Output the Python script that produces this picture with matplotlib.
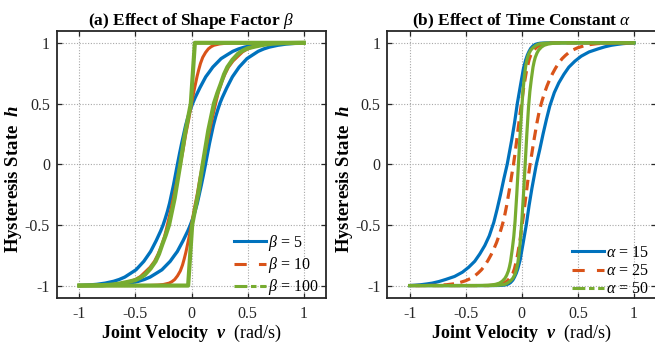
import matplotlib
matplotlib.use('Agg')
import matplotlib.pyplot as plt
from matplotlib.lines import Line2D

plt.rcParams.update({
    'font.family': ['Liberation Serif', 'DejaVu Serif'],
    'mathtext.fontset': 'custom',
    'mathtext.rm': 'Liberation Serif',
    'mathtext.it': 'Liberation Serif:italic',
    'mathtext.bf': 'Liberation Serif:bold',
    'mathtext.bfit': 'Liberation Serif:bold:italic',
    'axes.unicode_minus': False,
})

# ---------------- data ----------------
ticks = [-1, -0.5, 0, 0.5, 1]
tick_labels = ['-1', '-0.5', '0', '0.5', '1']

# Panel (a): effect of shape factor beta
beta_labels = [r'$\beta$ = 5', r'$\beta$ = 10', r'$\beta$ = 100']

b5_up_v = [-1.0, -0.925, -0.845, -0.77, -0.695, -0.645, -0.595, -0.545, -0.495, -0.46, -0.425, -0.395,
           -0.365, -0.34, -0.315, -0.295, -0.275, -0.255, -0.235, -0.215, -0.195, -0.1775, -0.16,
           -0.1425, -0.125, -0.107, -0.088, -0.07, -0.052, -0.031, -0.01, 0.012, 0.033, 0.054, 0.075,
           0.101, 0.127, 0.159, 0.19, 0.227, 0.264, 0.316, 0.369, 0.421, 0.474, 0.552, 0.631, 0.715,
           0.794, 1.0]
b5_up_h = [-1.0, -0.996, -0.99, -0.98, -0.965, -0.95, -0.93, -0.9, -0.87, -0.835, -0.8, -0.76,
           -0.72, -0.675, -0.63, -0.59, -0.55, -0.505, -0.45, -0.39, -0.32, -0.245, -0.17,
           -0.085, 0.0, 0.085, 0.17, 0.245, 0.32, 0.39, 0.45, 0.505, 0.55, 0.59, 0.63,
           0.675, 0.72, 0.76, 0.8, 0.835, 0.87, 0.9, 0.93, 0.95, 0.965, 0.98, 0.99, 0.996,
           1.0, 1.0]
b5_dn_v = [1.0, 0.925, 0.845, 0.77, 0.695, 0.645, 0.595, 0.545, 0.495, 0.46, 0.425, 0.395,
           0.365, 0.34, 0.315, 0.295, 0.275, 0.255, 0.235, 0.215, 0.195, 0.1775, 0.16,
           0.1425, 0.125, 0.107, 0.088, 0.07, 0.052, 0.031, 0.01, -0.012, -0.033, -0.054, -0.075,
           -0.101, -0.127, -0.159, -0.19, -0.227, -0.264, -0.316, -0.369, -0.421, -0.474, -0.552,
           -0.631, -0.715, -0.794, -1.0]
b5_dn_h = [1.0, 0.996, 0.99, 0.98, 0.965, 0.95, 0.93, 0.9, 0.87, 0.835, 0.8, 0.76,
           0.72, 0.675, 0.63, 0.59, 0.55, 0.505, 0.45, 0.39, 0.32, 0.245, 0.17,
           0.085, 0.0, -0.085, -0.17, -0.245, -0.32, -0.39, -0.45, -0.505, -0.55, -0.59, -0.63,
           -0.675, -0.72, -0.76, -0.8, -0.835, -0.87, -0.9, -0.93, -0.95, -0.965, -0.98, -0.99,
           -0.996, -1.0, -1.0]

b10_up_v = [-1.0, -0.85, -0.75, -0.67, -0.6, -0.55, -0.5, -0.455, -0.415, -0.37, -0.33, -0.3, -0.27,
            -0.24, -0.215, -0.185, -0.16, -0.13, -0.1, -0.075, -0.053, -0.025, 0.0, 0.018, 0.035,
            0.05, 0.065, 0.08, 0.1, 0.125, 0.15, 0.175, 0.2, 0.25, 0.3, 0.37, 0.45, 1.0]
b10_up_h = [-1.0, -0.999, -0.997, -0.99, -0.98, -0.967, -0.95, -0.925, -0.89, -0.85, -0.8, -0.745,
            -0.68, -0.595, -0.5, -0.38, -0.27, -0.14, 0.0, 0.12, 0.24, 0.37, 0.5, 0.585, 0.66,
            0.725, 0.78, 0.83, 0.88, 0.92, 0.95, 0.968, 0.98, 0.991, 0.996, 0.999, 1.0, 1.0]
b10_dn_v = [1.0, 0.85, 0.75, 0.67, 0.6, 0.55, 0.5, 0.455, 0.415, 0.37, 0.33, 0.3, 0.27,
            0.24, 0.215, 0.185, 0.16, 0.13, 0.1, 0.075, 0.053, 0.025, 0.0, -0.018, -0.035,
            -0.05, -0.065, -0.08, -0.1, -0.125, -0.15, -0.175, -0.2, -0.25, -0.3, -0.37, -0.45, -1.0]
b10_dn_h = [1.0, 0.999, 0.997, 0.99, 0.98, 0.967, 0.95, 0.925, 0.89, 0.85, 0.8, 0.745,
            0.68, 0.595, 0.5, 0.38, 0.27, 0.14, 0.0, -0.12, -0.24, -0.37, -0.5, -0.585, -0.66,
            -0.725, -0.78, -0.83, -0.88, -0.92, -0.95, -0.968, -0.98, -0.991, -0.996, -0.999, -1.0, -1.0]

b100_up_v = [-1.0, -0.8, -0.72, -0.65, -0.57, -0.5, -0.455, -0.415, -0.365, -0.32, -0.29, -0.26,
             -0.23, -0.2, -0.175, -0.15, -0.125, -0.1, -0.08, -0.06, -0.033, -0.006, 0.012, 0.03, 1.0]
b100_up_h = [-1.0, -0.997, -0.993, -0.985, -0.97, -0.955, -0.935, -0.91, -0.86, -0.8, -0.74, -0.66,
             -0.585, -0.5, -0.39, -0.28, -0.14, 0.0, 0.12, 0.24, 0.37, 0.5, 0.75, 1.0, 1.0]
b100_dn_v = [1.0, 0.8, 0.72, 0.65, 0.57, 0.5, 0.455, 0.415, 0.365, 0.32, 0.29, 0.26,
             0.23, 0.2, 0.175, 0.15, 0.125, 0.1, 0.08, 0.06, 0.033, 0.006, -0.012, -0.03, -1.0]
b100_dn_h = [1.0, 0.997, 0.993, 0.985, 0.97, 0.955, 0.935, 0.91, 0.86, 0.8, 0.74, 0.66,
             0.585, 0.5, 0.39, 0.28, 0.14, 0.0, -0.12, -0.24, -0.37, -0.5, -0.75, -1.0, -1.0]

# Panel (b): effect of time constant alpha
alpha_labels = [r'$\alpha$ = 15', r'$\alpha$ = 25', r'$\alpha$ = 50']

a15_up_v = [-1.0, -0.95, -0.9, -0.85, -0.8, -0.74, -0.68, -0.6, -0.53, -0.475, -0.42, -0.375, -0.33,
            -0.29, -0.25, -0.22, -0.19, -0.16, -0.13, -0.11, -0.09, -0.065, -0.04, -0.01, 0.015,
            0.035, 0.05, 0.065, 0.08, 0.1, 0.12, 0.14, 0.165, 0.2, 0.25, 1.0]
a15_up_h = [-1.0, -0.997, -0.993, -0.987, -0.98, -0.967, -0.95, -0.925, -0.89, -0.85, -0.8, -0.74,
            -0.67, -0.59, -0.48, -0.37, -0.25, -0.12, 0.0, 0.1, 0.2, 0.34, 0.5, 0.66, 0.79,
            0.86, 0.9, 0.93, 0.955, 0.975, 0.987, 0.993, 0.997, 0.999, 1.0, 1.0]
a15_dn_v = [1.0, 0.95, 0.9, 0.85, 0.8, 0.74, 0.68, 0.6, 0.53, 0.475, 0.42, 0.375, 0.33,
            0.29, 0.25, 0.22, 0.19, 0.16, 0.13, 0.11, 0.09, 0.065, 0.04, 0.01, -0.015,
            -0.035, -0.05, -0.065, -0.08, -0.1, -0.12, -0.14, -0.165, -0.2, -0.25, -1.0]
a15_dn_h = [1.0, 0.997, 0.993, 0.987, 0.98, 0.967, 0.95, 0.925, 0.89, 0.85, 0.8, 0.74,
            0.67, 0.59, 0.48, 0.37, 0.25, 0.12, 0.0, -0.1, -0.2, -0.34, -0.5, -0.66, -0.79,
            -0.86, -0.9, -0.93, -0.955, -0.975, -0.987, -0.993, -0.997, -0.999, -1.0, -1.0]

a25_up_v = [-1.0, -0.85, -0.75, -0.67, -0.6, -0.55, -0.5, -0.46, -0.42, -0.39, -0.36, -0.33, -0.3,
            -0.275, -0.25, -0.225, -0.2, -0.18, -0.165, -0.15, -0.135, -0.12, -0.105, -0.09, -0.074,
            -0.06, -0.045, -0.03, -0.015, 0.0, 0.015, 0.028, 0.04, 0.052, 0.065, 0.08, 0.1, 0.125,
            0.15, 0.185, 0.22, 0.3, 1.0]
a25_up_h = [-1.0, -0.999, -0.998, -0.993, -0.985, -0.974, -0.96, -0.943, -0.92, -0.897, -0.87, -0.835,
            -0.79, -0.748, -0.7, -0.645, -0.58, -0.52, -0.47, -0.41, -0.34, -0.26, -0.18, -0.09, 0.0,
            0.09, 0.2, 0.31, 0.42, 0.52, 0.62, 0.695, 0.76, 0.81, 0.86, 0.9, 0.93, 0.958,
            0.975, 0.988, 0.995, 1.0, 1.0]
a25_dn_v = [1.0, 0.85, 0.75, 0.67, 0.6, 0.55, 0.5, 0.46, 0.42, 0.39, 0.36, 0.33, 0.3,
            0.275, 0.25, 0.225, 0.2, 0.18, 0.165, 0.15, 0.135, 0.12, 0.105, 0.09, 0.074,
            0.06, 0.045, 0.03, 0.015, 0.0, -0.015, -0.028, -0.04, -0.052, -0.065, -0.08, -0.1, -0.125,
            -0.15, -0.185, -0.22, -0.3, -1.0]
a25_dn_h = [1.0, 0.999, 0.998, 0.993, 0.985, 0.974, 0.96, 0.943, 0.92, 0.897, 0.87, 0.835,
            0.79, 0.748, 0.7, 0.645, 0.58, 0.52, 0.47, 0.41, 0.34, 0.26, 0.18, 0.09, 0.0,
            -0.09, -0.2, -0.31, -0.42, -0.52, -0.62, -0.695, -0.76, -0.81, -0.86, -0.9, -0.93, -0.958,
            -0.975, -0.988, -0.995, -1.0, -1.0]

a50_up_v = [-1.0, -0.42, -0.35, -0.3, -0.27, -0.235, -0.2, -0.175, -0.15, -0.135, -0.12, -0.11, -0.1,
            -0.085, -0.072, -0.06, -0.045, -0.03, -0.015, 0.0, 0.012, 0.025, 0.035, 0.047, 0.06, 0.08,
            0.1, 0.125, 0.15, 0.185, 0.22, 0.26, 0.3, 1.0]
a50_up_h = [-1.0, -1.0, -0.999, -0.997, -0.995, -0.99, -0.98, -0.965, -0.94, -0.915, -0.88, -0.845, -0.8,
            -0.7, -0.6, -0.47, -0.25, 0.0, 0.25, 0.47, 0.62, 0.74, 0.81, 0.865, 0.905, 0.94,
            0.96, 0.978, 0.99, 0.995, 0.998, 0.999, 1.0, 1.0]
a50_dn_v = [1.0, 0.42, 0.35, 0.3, 0.27, 0.235, 0.2, 0.175, 0.15, 0.135, 0.12, 0.11, 0.1,
            0.085, 0.072, 0.06, 0.045, 0.03, 0.015, 0.0, -0.012, -0.025, -0.035, -0.047, -0.06, -0.08,
            -0.1, -0.125, -0.15, -0.185, -0.22, -0.26, -0.3, -1.0]
a50_dn_h = [1.0, 1.0, 0.999, 0.997, 0.995, 0.99, 0.98, 0.965, 0.94, 0.915, 0.88, 0.845, 0.8,
            0.7, 0.6, 0.47, 0.25, 0.0, -0.25, -0.47, -0.62, -0.74, -0.81, -0.865, -0.905, -0.94,
            -0.96, -0.978, -0.99, -0.995, -0.998, -0.999, -1.0, -1.0]

# ---------------- styling ----------------
C_BLUE, C_ORANGE, C_GREEN = '#0072BD', '#D95319', '#77AC30'
DASH = (0, (3.3, 2.0))
LEG_DASH = (0, (4.0, 4.0))
LEG_DASHDOT = (0, (4.2, 1.2, 1.8, 1.2))

fig = plt.figure(figsize=(6.55, 3.43), dpi=100)
ax1 = fig.add_axes([57 / 655, 1 - 297.7 / 343, 269 / 655, 267 / 343])
ax2 = fig.add_axes([387.3 / 655, 1 - 297.7 / 343, 269 / 655, 267 / 343])


def style(ax, title):
    ax.set_xlim(-1.2, 1.2)
    ax.set_ylim(-1.1, 1.1)
    ax.set_xticks(ticks)
    ax.set_xticklabels(tick_labels)
    ax.set_yticks(ticks)
    ax.set_yticklabels(tick_labels)
    ax.grid(True, color='#a8a8a8', linestyle=(0, (1, 1.5)), linewidth=0.8)
    ax.set_axisbelow(True)
    ax.tick_params(direction='in', length=3.5, width=0.9, top=True, right=True,
                   labelsize=11.5, colors='#262626')
    ax.tick_params(axis='x', pad=6)
    ax.tick_params(axis='y', pad=5)
    for s in ax.spines.values():
        s.set_linewidth(1.3)
        s.set_color('#262626')
    ax.set_title(title, fontsize=12.5, fontweight='bold', pad=4)
    ax.set_xlabel(r'Joint Velocity  $\mathbfit{v}$  $\mathrm{(rad/s)}$', fontsize=13,
                  fontweight='bold')
    ax.set_ylabel(r'Hysteresis State  $\mathbfit{h}$', fontsize=13.5, fontweight='bold')
    ax.xaxis.set_label_coords(0.5, -0.135)
    ax.xaxis.label.set_va('center')
    ax.yaxis.label.set_va('center')
    ax.yaxis.set_label_coords((14 - 57) / 269, 0.445)


# Panel (a)
ax1.plot(b5_up_v, b5_up_h, color=C_BLUE, lw=2.4)
ax1.plot(b5_dn_v, b5_dn_h, color=C_BLUE, lw=2.4)
ax1.plot(b10_up_v, b10_up_h, color=C_ORANGE, lw=2.2)
ax1.plot(b10_dn_v, b10_dn_h, color=C_ORANGE, lw=2.2)
ax1.plot(b100_up_v, b100_up_h, color=C_GREEN, lw=3.0)
ax1.plot(b100_dn_v, b100_dn_h, color=C_GREEN, lw=3.0)
style(ax1, r'(a) Effect of Shape Factor $\beta$')

# Panel (b)
ax2.plot(a15_up_v, a15_up_h, color=C_BLUE, lw=2.3)
ax2.plot(a15_dn_v, a15_dn_h, color=C_BLUE, lw=2.3)
ax2.plot(a25_up_v, a25_up_h, color=C_ORANGE, lw=2.3, linestyle=DASH)
ax2.plot(a25_dn_v, a25_dn_h, color=C_ORANGE, lw=2.3, linestyle=DASH)
ax2.plot(a50_up_v, a50_up_h, color=C_GREEN, lw=2.3)
ax2.plot(a50_dn_v, a50_dn_h, color=C_GREEN, lw=2.3)
style(ax2, r'(b) Effect of Time Constant $\alpha$')


def handles():
    return [Line2D([], [], color=C_BLUE, lw=2.2),
            Line2D([], [], color=C_ORANGE, lw=2.2, linestyle=LEG_DASH),
            Line2D([], [], color=C_GREEN, lw=2.2, linestyle=LEG_DASHDOT)]


for ax, labels in ((ax1, beta_labels), (ax2, alpha_labels)):
    ax.legend(handles(), labels, loc='lower right', bbox_to_anchor=(1.015, -0.041),
              frameon=False, fontsize=11.5, handlelength=2.0, handletextpad=0.15,
              labelspacing=0.14, borderaxespad=0.3)

fig.savefig('out.png', dpi=100)
